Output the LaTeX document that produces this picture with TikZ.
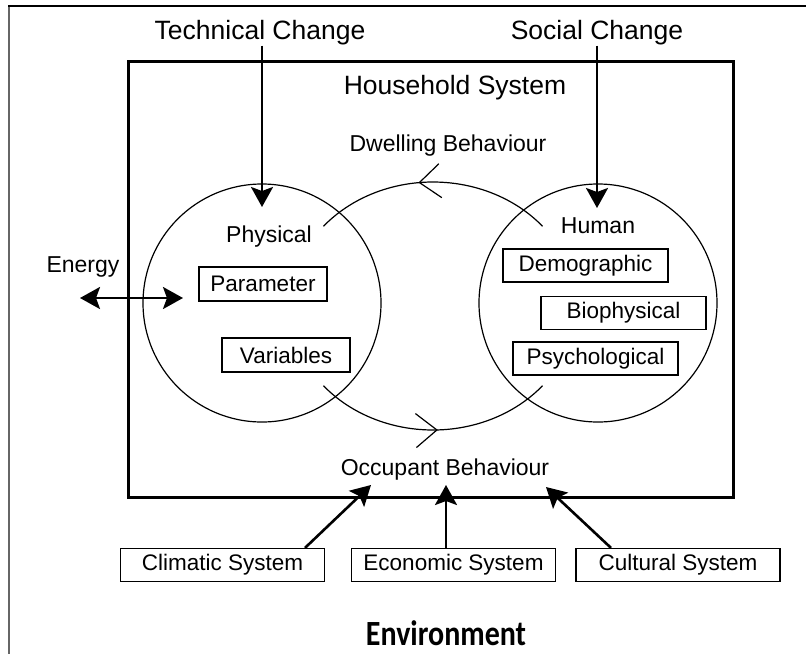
\documentclass[tikz,border=0pt]{standalone}
\usepackage{fontspec}
\setmainfont{Liberation Sans}
\newfontfamily\envfont{Carlito}
\usetikzlibrary{arrows.meta,decorations.markings}

\begin{document}
\begin{tikzpicture}[x=1pt,y=-1pt,
  lbl/.style={inner sep=0pt, font=\fontsize{23}{27}\selectfont},
  big/.style={inner sep=0pt, font=\fontsize{26.5}{30}\selectfont},
  itembox/.style={draw, line width=1.2pt, inner sep=0pt,
    font=\fontsize{22.5}{26}\selectfont, minimum width=165pt, minimum height=33pt},
  sysbox/.style={draw, line width=1.2pt, inner sep=0pt,
    font=\fontsize{22.5}{26}\selectfont, minimum width=204pt, minimum height=33pt},
  ring/.style={line width=1.2pt},
  push/.style={line width=2.6pt, -{Stealth[length=20pt,width=22pt,inset=4pt]}},
  loopline/.style={line width=1.2pt, postaction=decorate},
  openbarb/.tip={Straight Barb[length=21pt,width=34pt,line width=1.2pt]}
]
\useasboundingbox (0,0) rectangle (806,654);

% outer frame (open at the right and bottom)
\draw[line width=2.4pt, black!60] (9,5) -- (9,654);
\draw[line width=1.6pt] (8,6) -- (806,6);

% household system box
\draw[line width=3pt] (128,61) rectangle (733,497);
\node[big] (house) at (455,88) {Household System};

% physical and human spheres
\draw[ring] (262,303) circle[radius=119];
\draw[ring] (598,303) circle[radius=119];

% behaviour cycle between the spheres
\draw[loopline, decoration={markings, mark=at position 0.56 with {\arrow{openbarb}}}]
  (433,306) ++(320:143 and 124) arc[start angle=320, end angle=220, x radius=143, y radius=124];
\draw[loopline, decoration={markings, mark=at position 0.52 with {\arrow{openbarb}}}]
  (433,306) ++(140:143 and 124) arc[start angle=140, end angle=40, x radius=143, y radius=124];

\node[lbl] (dwell) at (448,146) {Dwelling Behaviour};
\node[lbl] (occ) at (445,470) {Occupant Behaviour};

% physical side
\node[lbl] (phys) at (269,237) {Physical};
\node[itembox, minimum width=128pt, minimum height=34pt] (param) at (263,284) {Parameter};
\node[itembox, minimum width=128pt, minimum height=34pt] (vars) at (286,355) {Variables};

% human side
\node[lbl] (human) at (598,226) {Human};
\node[itembox] (demo) at (585.5,265.5) {Demographic};
\node[itembox] (bio) at (623.5,313) {Biophysical};
\node[itembox] (psych) at (595.5,358.5) {Psychological};

% external drivers
\node[big] (tech) at (260,33) {Technical Change};
\node[big] (social) at (597,33) {Social Change};
\coordinate (techtip) at (262,207);
\coordinate (socialtip) at (597,208);
\draw[push] (tech.south -| techtip) -- (techtip);
\draw[push] (social.south -| socialtip) -- (socialtip);

% energy exchange
\node[lbl] (energy) at (83,267) {Energy};
\coordinate (eout) at (80,298);
\coordinate (ein) at (183,298);
\draw[line width=2.6pt, {Stealth[length=20pt,width=22pt,inset=4pt]}-{Stealth[length=20pt,width=22pt,inset=4pt]}] (eout) -- (ein);

% environment systems
\node[sysbox] (clim) at (222.5,565) {Climatic System};
\node[sysbox] (econ) at (453.5,565) {Economic System};
\node[sysbox] (cult) at (678,565) {Cultural System};
\coordinate (climtip) at (371,485);
\coordinate (econtip) at (446,485);
\coordinate (culttip) at (546,487);
\draw[push] ([xshift=82.5pt]clim.north) -- (climtip);
\draw[push] (econ.north -| econtip) -- (econtip);
\draw[push] ([xshift=-67pt]cult.north) -- (culttip);

\node[inner sep=0pt, font=\envfont\bfseries\fontsize{30}{34}\selectfont] (env) at (446,633)
  {\scalebox{1}[1.18]{Environment}};
\end{tikzpicture}
\end{document}
